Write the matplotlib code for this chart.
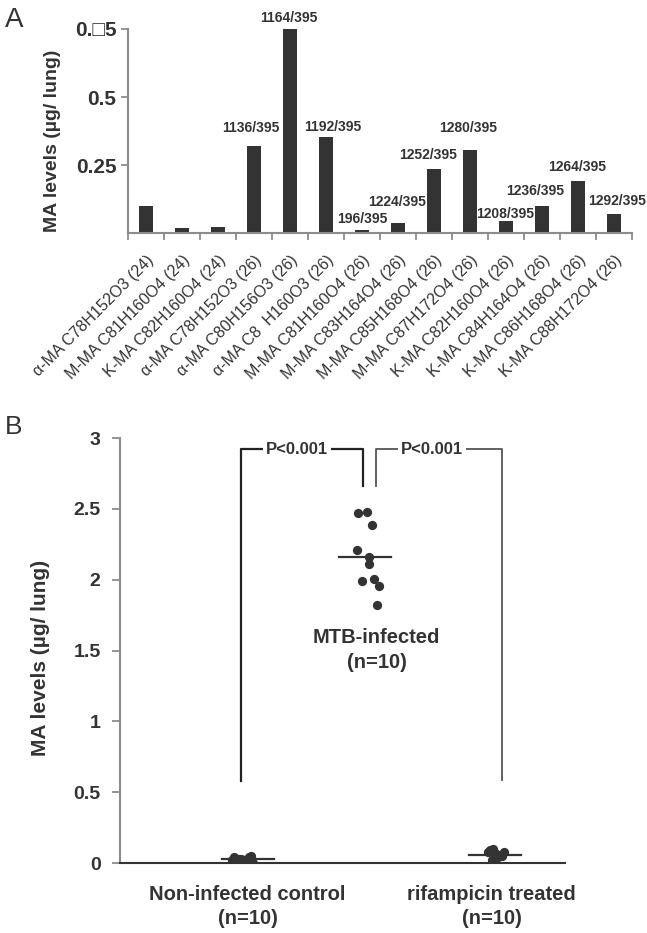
import numpy as np
import matplotlib.pyplot as plt

plt.rcParams.update({
    'font.family': ['Liberation Sans', 'DejaVu Sans'],
    'figure.dpi': 100,
    'savefig.dpi': 100,
})
DARK = '#333333'
GREY = '#8c8c8c'

# Panel A data
species = ['α-MA C78H152O3 (24)', 'M-MA C81H160O4 (24)', 'K-MA C82H160O4 (24)',
           'α-MA C78H152O3 (26)', 'α-MA C80H156O3 (26)', 'α-MA C8  H160O3 (26)',
           'M-MA C81H160O4 (26)', 'M-MA C83H164O4 (26)', 'M-MA C85H168O4 (26)',
           'M-MA C87H172O4 (26)', 'K-MA C82H160O4 (26)', 'K-MA C84H164O4 (26)',
           'K-MA C86H168O4 (26)', 'K-MA C88H172O4 (26)']
levels = [0.099, 0.018, 0.022, 0.32, 0.75, 0.353, 0.013, 0.037, 0.235,
          0.305, 0.044, 0.099, 0.19, 0.07]
ratio_labels = [None, None, None, '1136/395', '1164/395', '1192/395', '196/395',
                '1224/395', '1252/395', '1280/395', '1208/395', '1236/395',
                '1264/395', '1292/395']
# label offsets (px) above bar tops
lab_dx = [0, 0, 0, -3, -1, 7, 0, -1, -6, -2, -1, -7, -1, 3]
lab_dy = [0, 0, 0, 18, 11, 10, 11, 21, 14, 22, 7, 15, 14, 13]

# Panel B data
groups = ['Non-infected control\n(n=10)', 'MTB-infected\n(n=10)', 'rifampicin treated\n(n=10)']
group_x = [1.0, 1.95, 3.0]
noninf = [0.02, 0.01, 0.03, 0.02, 0.00, 0.04, 0.03, 0.05, 0.02, 0.04]
mtb = [2.474, 2.479, 2.385, 2.209, 2.157, 2.11, 1.993, 2.005, 1.953, 1.822]
rif = [0.08, 0.09, 0.10, 0.07, 0.06, 0.05, 0.04, 0.02, 0.01, 0.08]
jit_noninf = [-0.13, -0.09, -0.05, -0.01, 0.04, -0.11, -0.07, 0.03, -0.03, 0.01]
jit_mtb = [-0.062, 0.014, 0.054, -0.067, 0.032, 0.032, -0.03, 0.073, 0.113, 0.091]
jit_rif = [-0.06, -0.04, -0.02, 0.0, 0.03, 0.05, 0.02, -0.03, -0.01, 0.07]

fig = plt.figure(figsize=(6.47, 9.33))

# ---------------- Panel A ----------------
axA = fig.add_axes([0.198, 0.750, 0.779, 0.219])
xc = np.arange(len(levels)) + 0.5
axA.bar(xc, levels, width=0.4, color=DARK)
for i, lab in enumerate(ratio_labels):
    if lab is None:
        continue
    axA.annotate(lab, (xc[i], levels[i]), xytext=(lab_dx[i] * 0.72, lab_dy[i] * 0.72),
                 textcoords='offset points', ha='center', va='center',
                 fontsize=10, fontweight='bold', color=DARK)
axA.set_xlim(0, len(levels))
axA.set_ylim(0, 0.75)
axA.set_yticks([0.25, 0.5, 0.75], ['0.25', '0.5', '0.\u25a15'],
               fontsize=15, fontweight='bold', color=DARK)
axA.set_xticks(np.arange(len(levels) + 1), minor=True)
axA.set_xticks(xc, species, rotation=45, ha='right', rotation_mode='anchor',
               fontsize=11.5, color=DARK)
axA.tick_params(axis='x', which='major', length=0, pad=14)
axA.tick_params(axis='x', which='minor', length=5, color=GREY, width=1.3, direction='out')
axA.tick_params(axis='y', length=5, color=GREY, width=1.3)
for s in ['top', 'right']:
    axA.spines[s].set_visible(False)
for s in ['left', 'bottom']:
    axA.spines[s].set_color(GREY)
    axA.spines[s].set_linewidth(1.5)
axA.set_ylabel('MA levels (µg/ lung)', fontsize=14, fontweight='bold', color=DARK)
axA.yaxis.set_label_coords(-0.133, 0.45)
fig.text(0.008, 0.992, 'A', fontsize=20, va='top', ha='left', color=DARK)

# ---------------- Panel B ----------------
axB = fig.add_axes([0.1855, 0.075, 0.6875, 0.4555])
for gx, vals, jit in [(group_x[0], noninf, jit_noninf), (group_x[1], mtb, jit_mtb),
                      (group_x[2], rif, jit_rif)]:
    axB.scatter(np.array(jit) + gx, vals, s=32, color=DARK, zorder=3)
    m = np.mean(vals)
    axB.plot([gx - 0.21, gx + 0.21], [m, m], color=DARK, lw=1.6, zorder=2)

# group labels
axB.text(group_x[1] + 0.09, 1.59, groups[1].split('\n')[0], ha='center', va='center',
         fontsize=14.5, fontweight='bold', color=DARK)
axB.text(group_x[1] + 0.09, 1.415, groups[1].split('\n')[1], ha='center', va='center',
         fontsize=14.5, fontweight='bold', color=DARK)
axB.set_xticks([group_x[0], group_x[2] - 0.03], [groups[0], groups[2]],
               fontsize=14.5, fontweight='bold', color=DARK, linespacing=1.3)
axB.tick_params(axis='x', length=0, pad=16)

# significance brackets
axB.plot([0.944, 0.944, 1.935, 1.935], [0.58, 2.92, 2.92, 2.66], color='#222222', lw=1.6)
axB.text(1.40, 2.92, 'P<0.001', ha='center', va='center', fontsize=12, fontweight='bold',
         color=DARK, bbox=dict(facecolor='white', edgecolor='none', pad=2))
axB.plot([2.04, 2.04, 3.05, 3.05], [2.66, 2.92, 2.92, 0.585], color='#555555', lw=1.3)
axB.text(2.49, 2.92, 'P<0.001', ha='center', va='center', fontsize=12, fontweight='bold',
         color=DARK, bbox=dict(facecolor='white', edgecolor='none', pad=2))

axB.set_xlim(-0.03, 3.56)
axB.set_ylim(0, 3)
axB.set_yticks([0, 0.5, 1, 1.5, 2, 2.5, 3], ['0', '0.5', '1', '1.5', '2', '2.5', '3'],
               fontsize=14, fontweight='bold', color=DARK)
axB.tick_params(axis='y', length=6, color=GREY, width=1.3, pad=8)
for s in ['top', 'right']:
    axB.spines[s].set_visible(False)
axB.spines['left'].set_color(GREY)
axB.spines['left'].set_linewidth(1.5)
axB.spines['bottom'].set_color(DARK)
axB.spines['bottom'].set_linewidth(1.5)
axB.set_ylabel('MA levels (µg/ lung)', fontsize=15, fontweight='bold', color=DARK)
axB.yaxis.set_label_coords(-0.157, 0.482)
fig.text(0.008, 0.555, 'B', fontsize=19, va='top', ha='left', color=DARK)

fig.savefig('out.png')
